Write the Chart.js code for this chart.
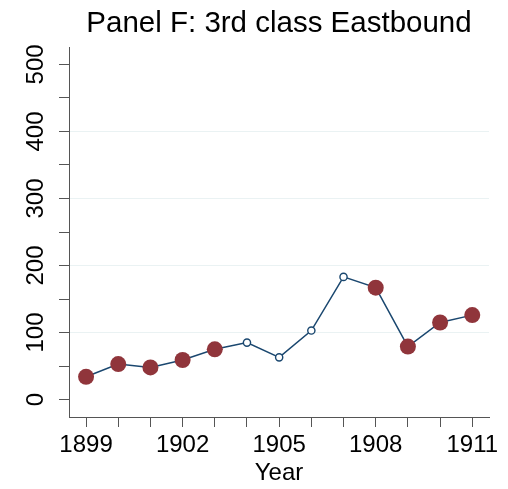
<!DOCTYPE html>
<html>
<head>
<meta charset="utf-8">
<script src="https://cdn.jsdelivr.net/npm/chart.js@4"></script>
<style>
  html, body { margin: 0; padding: 0; background: #fff; }
  #wrap { width: 508px; height: 489px; }
</style>
</head>
<body>
<div id="wrap"><canvas id="grafico" width="508" height="489"></canvas></div>
<script>
// datos
const titulo = "Panel F: 3rd class Eastbound";
const anios = [1899, 1900, 1901, 1902, 1903, 1904, 1905, 1906, 1907, 1908, 1909, 1910, 1911];
const valores = [34, 53, 48, 59, 75, 85, 63, 103, 183, 167, 79, 115, 126];
// true = punto lleno (observado), false = punto hueco
const observado = [true, true, true, true, true, false, false, false, false, true, true, true, true];
const etiquetasX = [1899, 1902, 1905, 1908, 1911];
const etiquetasY = [0, 100, 200, 300, 400, 500];
const gridY = [100, 200, 300, 400];

const fuente = "'Liberation Sans', Helvetica, Arial, sans-serif";
const navy = "#1A476F";
const granate = "#90353B";
const ejeColor = "#555";

// titulo y etiquetas del eje y (rotadas) dibujadas a mano
const textosPlugin = {
  id: "textos",
  afterDraw(chart) {
    const c = chart.ctx;
    const area = chart.chartArea;
    const escalaY = chart.scales.y;
    c.save();
    c.fillStyle = "#000";
    c.font = "29.5px " + fuente;
    c.textAlign = "center";
    c.textBaseline = "alphabetic";
    c.fillText(titulo, (area.left + area.right) / 2, 32);

    c.font = "24px " + fuente;
    c.textBaseline = "middle";
    etiquetasY.forEach(v => {
      const y = escalaY.getPixelForValue(v);
      c.save();
      c.translate(36, y);
      c.rotate(-Math.PI / 2);
      c.fillText(String(v), 0, 0);
      c.restore();
    });
    c.restore();
  }
};

const ctx = document.getElementById("grafico").getContext("2d");
const grafico = new Chart(ctx, {
  type: "line",
  data: {
    datasets: [{
      data: anios.map((a, i) => ({ x: a, y: valores[i] })),
      borderColor: navy,
      borderWidth: 1.5,
      tension: 0,
      fill: false,
      pointRadius: c => observado[c.dataIndex] ? 8 : 3.6,
      pointBackgroundColor: c => observado[c.dataIndex] ? granate : "#fff",
      pointBorderColor: c => observado[c.dataIndex] ? granate : navy,
      pointBorderWidth: c => observado[c.dataIndex] ? 0 : 1.4,
      pointHoverRadius: c => observado[c.dataIndex] ? 8 : 3.6
    }]
  },
  options: {
    responsive: false,
    animation: false,
    events: [],
    layout: { padding: { left: 0, right: 19, top: 47, bottom: 0 } },
    plugins: {
      legend: { display: false },
      title: { display: false },
      tooltip: { enabled: false }
    },
    scales: {
      x: {
        type: "linear",
        min: 1898.47,
        max: 1911.52,
        afterFit: s => { s.height = 72; },
        afterBuildTicks: s => {
          s.ticks = anios.map(a => ({ value: a }));
        },
        ticks: {
          autoSkip: false,
          maxRotation: 0,
          padding: 4,
          color: "#000",
          font: { family: fuente, size: 24 },
          callback: v => etiquetasX.includes(v) ? String(v) : ""
        },
        grid: {
          drawOnChartArea: false,
          drawTicks: true,
          tickLength: 10,
          tickColor: ejeColor,
          tickWidth: 1
        },
        border: { display: true, color: ejeColor, width: 1 },
        title: {
          display: true,
          text: "Year",
          color: "#000",
          font: { family: fuente, size: 24 },
          padding: { top: 0, bottom: 1 }
        }
      },
      y: {
        type: "linear",
        min: -26,
        max: 526,
        afterFit: s => { s.width = 69; },
        afterBuildTicks: s => {
          const t = [];
          for (let v = 0; v <= 500; v += 50) t.push({ value: v });
          s.ticks = t;
        },
        ticks: { display: false },
        grid: {
          drawTicks: true,
          tickLength: 10,
          tickColor: ejeColor,
          tickWidth: 1,
          lineWidth: 1,
          color: c => (c.tick && gridY.includes(c.tick.value)) ? "#EAF2F3" : "rgba(0,0,0,0)"
        },
        border: { display: true, color: ejeColor, width: 1 }
      }
    }
  },
  plugins: [textosPlugin]
});
</script>
</body>
</html>
